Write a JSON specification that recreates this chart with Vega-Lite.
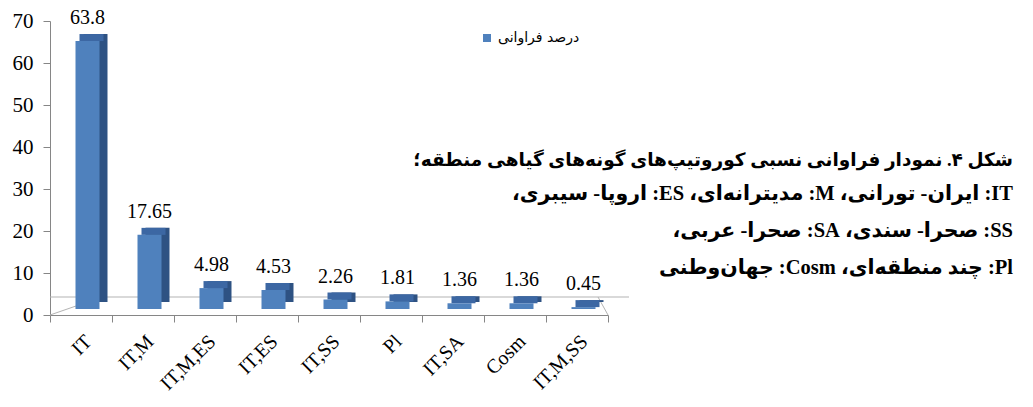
{
  "$schema": "https://vega.github.io/schema/vega-lite/v6.json",
  "width": 558,
  "height": 294,
  "autosize": "none",
  "padding": {"left": 50, "top": 21, "right": 425, "bottom": 92},
  "background": "white",
  "config": {
    "view": {"stroke": null},
    "font": "Liberation Serif",
    "scale": {"bandPaddingInner": 0, "bandPaddingOuter": 0},
    "axisX": {"domainColor": "#868686", "tickColor": "#868686", "tickSize": 7, "tickBand": "extent", "labelAngle": -45, "labelFont": "Liberation Serif", "labelFontSize": 20, "labelColor": "#000000", "labelPadding": 9, "grid": false},
    "axisY": {"domainColor": "#868686", "tickColor": "#868686", "tickSize": 7, "tickCount": 8, "labelFont": "Liberation Serif", "labelFontSize": 21, "labelColor": "#000000", "labelPadding": 10, "grid": false}
  },
  "title": {
    "text": "\u202bشکل ۴. نمودار فراوانی نسبی کوروتیپ\u200cهای گونه\u200cهای گیاهی منطقه؛\u202c",
    "subtitle": [
      "\u202bIT: ایران- تورانی، M: مدیترانه\u200cای، ES: اروپا- سیبری،\u202c",
      "\u202bSS: صحرا- سندی، SA: صحرا- عربی،\u202c",
      "\u202bPl: چند منطقه\u200cای، Cosm: جهان\u200cوطنی\u202c"
    ],
    "orient": "top",
    "anchor": "end",
    "frame": "group",
    "align": "right",
    "baseline": "top",
    "offset": 0,
    "dx": 405,
    "dy": 270,
    "font": "Liberation Serif, DejaVu Sans",
    "fontSize": 18.5,
    "fontWeight": "bold",
    "color": "#000000",
    "lineHeight": 37,
    "subtitleFont": "Liberation Serif, DejaVu Sans",
    "subtitleFontSize": 20.5,
    "subtitleFontWeight": "bold",
    "subtitleColor": "#000000",
    "subtitleLineHeight": 37,
    "subtitlePadding": 14
  },
  "data": {
    "values": [
      {"region": "IT", "pct": 63.8, "label": "63.8", "series": "درصد فراوانی"},
      {"region": "IT,M", "pct": 17.65, "label": "17.65", "series": "درصد فراوانی"},
      {"region": "IT,M,ES", "pct": 4.98, "label": "4.98", "series": "درصد فراوانی"},
      {"region": "IT,ES", "pct": 4.53, "label": "4.53", "series": "درصد فراوانی"},
      {"region": "IT,SS", "pct": 2.26, "label": "2.26", "series": "درصد فراوانی"},
      {"region": "Pl", "pct": 1.81, "label": "1.81", "series": "درصد فراوانی"},
      {"region": "IT,SA", "pct": 1.36, "label": "1.36", "series": "درصد فراوانی"},
      {"region": "Cosm", "pct": 1.36, "label": "1.36", "series": "درصد فراوانی"},
      {"region": "IT,M,SS", "pct": 0.45, "label": "0.45", "series": "درصد فراوانی"}
    ]
  },
  "layer": [
    {
      "data": {"values": [{}]},
      "mark": {"type": "rule", "color": "#B3B3B3", "strokeWidth": 1, "xOffset": 21, "x2Offset": 21, "yOffset": -18},
      "encoding": {"y": {"datum": 0, "type": "quantitative", "scale": {"domain": [0, 70]}}}
    },
    {
      "data": {"values": [{}]},
      "mark": {"type": "rule", "color": "#B3B3B3", "strokeWidth": 1, "x2Offset": 21, "y2Offset": -18},
      "encoding": {
        "x": {"datum": "IT", "bandPosition": 0, "type": "nominal", "scale": {"domain": ["IT", "IT,M", "IT,M,ES", "IT,ES", "IT,SS", "Pl", "IT,SA", "Cosm", "IT,M,SS"]}},
        "x2": {"datum": "IT"},
        "y": {"datum": 0, "type": "quantitative"},
        "y2": {"datum": 0}
      }
    },
    {
      "data": {"values": [{}]},
      "mark": {"type": "rule", "color": "#B3B3B3", "strokeWidth": 1, "x2Offset": 21, "y2Offset": -18},
      "encoding": {
        "x": {"datum": "IT,M,SS", "bandPosition": 1, "type": "nominal"},
        "x2": {"datum": "IT,M,SS"},
        "y": {"datum": 0, "type": "quantitative"},
        "y2": {"datum": 0}
      }
    },
    {
      "mark": {"type": "bar", "width": 24, "color": "#2E5283", "xOffset": 14.5, "x2Offset": 14.5, "yOffset": -13, "y2Offset": -13},
      "encoding": {
        "x": {"field": "region", "type": "nominal", "title": null},
        "y": {"field": "pct", "type": "quantitative", "title": null}
      }
    },
    {
      "mark": {"type": "bar", "width": 24, "color": "#3C67A3", "xOffset": 10.5, "x2Offset": 10.5, "yOffset": -13, "y2Offset": -6},
      "encoding": {
        "x": {"field": "region", "type": "nominal", "title": null},
        "y": {"field": "pct", "type": "quantitative", "title": null},
        "y2": {"field": "pct"}
      }
    },
    {
      "mark": {"type": "bar", "width": 24, "xOffset": 6.5, "x2Offset": 6.5, "yOffset": -6, "y2Offset": -6},
      "encoding": {
        "x": {"field": "region", "type": "nominal", "title": null},
        "y": {"field": "pct", "type": "quantitative", "title": null},
        "color": {
          "field": "series",
          "type": "nominal",
          "scale": {"range": ["#4F81BD"]},
          "legend": {"orient": "none", "legendX": 430, "legendY": 10, "title": null, "symbolType": "square", "symbolSize": 64, "symbolStrokeWidth": 0, "labelFont": "DejaVu Sans", "labelFontSize": 14, "labelColor": "#000000", "labelLimit": 0}
        }
      }
    },
    {
      "mark": {"type": "text", "font": "Liberation Serif", "fontSize": 20, "color": "#000000", "baseline": "middle", "dx": 6.5, "dy": -29},
      "encoding": {
        "x": {"field": "region", "type": "nominal", "title": null},
        "y": {"field": "pct", "type": "quantitative", "title": null},
        "text": {"field": "label"}
      }
    }
  ]
}
